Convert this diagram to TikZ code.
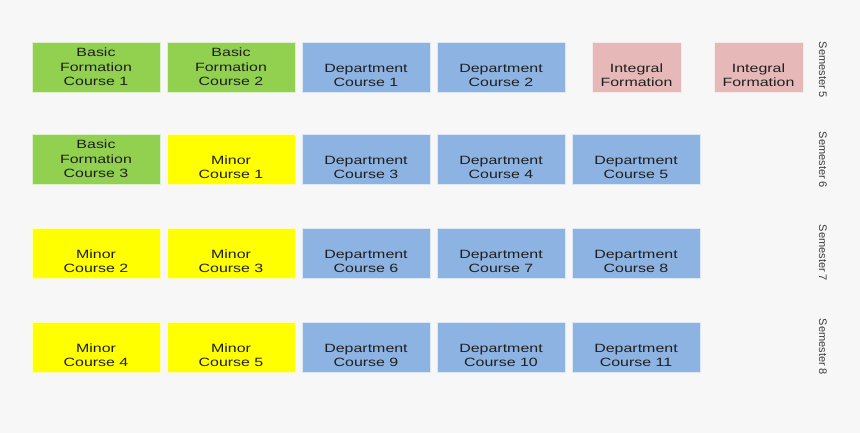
\documentclass[tikz,border=0pt]{standalone}
\usepackage{fontspec}
\setmainfont{Liberation Sans}
\newfontfamily\boxfont[FakeStretch=1.33]{Liberation Sans}
\usetikzlibrary{positioning}
\definecolor{bggray}{RGB}{247,247,247}
\definecolor{mygreen}{RGB}{146,208,80}
\definecolor{myblue}{RGB}{141,179,226}
\definecolor{mypink}{RGB}{230,185,184}
\definecolor{myyellow}{RGB}{255,255,0}
\definecolor{semgray}{RGB}{60,60,60}

\begin{document}
\begin{tikzpicture}[x=1pt,y=-1pt,
  course/.style={draw=white!70!#1,line width=0.6pt,fill=#1,minimum width=128pt,minimum height=50pt,
    inner sep=0pt,align=center,text=black!88,font=\boxfont\fontsize{12}{14.5}\selectfont},
  integral/.style={course=mypink,minimum width=89pt},
  semester/.style={rotate=-90,text=semgray,font=\fontsize{11}{13}\selectfont}]

% background
\fill[bggray] (0,0) rectangle (860,433);

% semester 5
\node[course=mygreen] (bf1) at (96,67) {Basic\\Formation\\Course 1};
\node[course=mygreen] (bf2) at (231,67) {Basic\\Formation\\Course 2};
\node[course=myblue] (dc1) at (366,67) {\strut\\Department\\Course 1};
\node[course=myblue] (dc2) at (501,67) {\strut\\Department\\Course 2};
\node[integral] (if1) at (636.5,67) {\strut\\Integral\\Formation};
\node[integral] (if2) at (758.5,67) {\strut\\Integral\\Formation};
\node[semester] (s5) at (823,70) {Semester 5};

% semester 6
\node[course=mygreen] (bf3) at (96,159) {Basic\\Formation\\Course 3};
\node[course=myyellow] (mc1) at (231,159) {\strut\\Minor\\Course 1};
\node[course=myblue] (dc3) at (366,159) {\strut\\Department\\Course 3};
\node[course=myblue] (dc4) at (501,159) {\strut\\Department\\Course 4};
\node[course=myblue] (dc5) at (636,159) {\strut\\Department\\Course 5};
\node[semester] (s6) at (823,160) {Semester 6};

% semester 7
\node[course=myyellow] (mc2) at (96,253) {\strut\\Minor\\Course 2};
\node[course=myyellow] (mc3) at (231,253) {\strut\\Minor\\Course 3};
\node[course=myblue] (dc6) at (366,253) {\strut\\Department\\Course 6};
\node[course=myblue] (dc7) at (501,253) {\strut\\Department\\Course 7};
\node[course=myblue] (dc8) at (636,253) {\strut\\Department\\Course 8};
\node[semester] (s7) at (823,253) {Semester 7};

% semester 8
\node[course=myyellow] (mc4) at (96,347) {\strut\\Minor\\Course 4};
\node[course=myyellow] (mc5) at (231,347) {\strut\\Minor\\Course 5};
\node[course=myblue] (dc9) at (366,347) {\strut\\Department\\Course 9};
\node[course=myblue] (dc10) at (501,347) {\strut\\Department\\Course 10};
\node[course=myblue] (dc11) at (636,347) {\strut\\Department\\Course 11};
\node[semester] (s8) at (823,347) {Semester 8};

\end{tikzpicture}
\end{document}
